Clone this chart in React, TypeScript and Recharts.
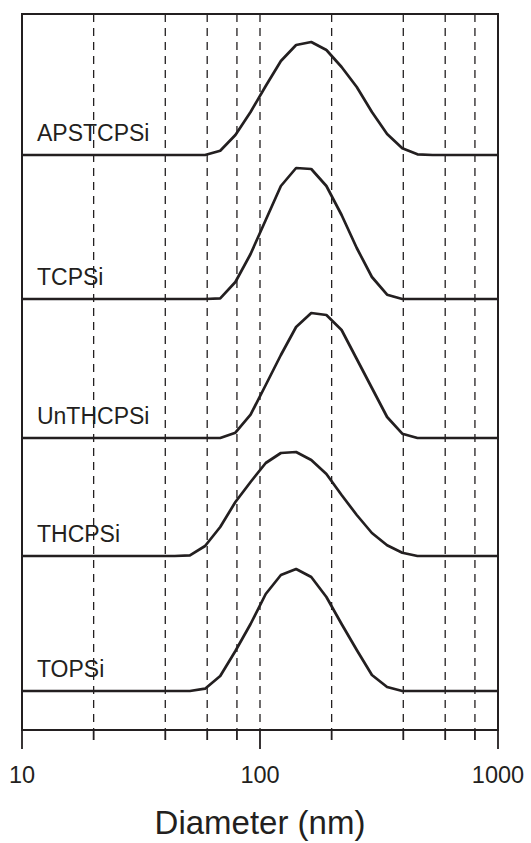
import { CartesianGrid, Line, LineChart, ReferenceArea, ReferenceDot, XAxis, YAxis } from "recharts"

// size bins (nm) – shared by every sample
const diameters = [10, 43.82, 50.75, 58.77, 68.06, 78.82, 91.28, 105.7, 122.4, 141.8, 164.2, 190.1, 220.2, 255.0, 295.3, 342.0, 396.1, 458.7, 531.2, 1000]

// intensity per bin (a.u.)
const apstcpsi = [0, 0, 0, 0, 4.3, 20, 43, 69, 94, 110, 113, 105, 88, 68, 43, 21, 6.7, 0.7, 0, 0]
const tcpsi = [0, 0, 0, 0, 0.7, 17, 45, 79, 113, 131, 130, 113, 84, 51, 22, 4.3, 0, 0, 0, 0]
const unthcpsi = [0, 0, 0, 0, 0, 5.3, 23.3, 53, 83, 111, 125, 123, 108, 79, 50, 21, 4.3, 0, 0, 0]
const thcpsi = [0, 0, 0.7, 10, 29, 54, 74, 93, 103, 104, 96, 82, 61, 41, 23, 10.7, 3.3, 0, 0, 0]
const topsi = [0, 0, 0, 2.3, 15, 40, 67, 97, 116, 122, 114, 94, 67, 41, 16, 4, 0, 0, 0, 0]

const sampleNames = ["APSTCPSi", "TCPSi", "UnTHCPSi", "THCPSi", "TOPSi"]
const sampleValues = [apstcpsi, tcpsi, unthcpsi, thcpsi, topsi]
// vertical stacking offset of each curve
const offsets = [575, 431, 292, 174, 39]

const xTicks = [10, 20, 40, 60, 80, 100, 200, 400, 600, 800, 1000]
const majorTicks = [10, 100, 1000]

const data = diameters.map((d, i) => {
  const row: Record<string, number> = { d }
  sampleNames.forEach((name, s) => {
    row[name] = offsets[s] + sampleValues[s][i]
  })
  return row
})

const FONT = "'Liberation Sans', Arial, Helvetica, sans-serif"
const INK = "#231f20"

const AxisTick = (props: any) => {
  const { x, y, payload } = props
  const major = majorTicks.includes(payload.value)
  return (
    <g>
      <line x1={x} x2={x} y1={y} y2={y + (major ? 19 : 10)} stroke={INK} strokeWidth={1.8} />
      {major && (
        <text x={x} y={y + 53} textAnchor="middle" fontSize={23.5} fontFamily={FONT} fill={INK}>
          {payload.value}
        </text>
      )}
    </g>
  )
}

const AxisTitle = (props: any) => {
  const vb = props.viewBox
  return (
    <text x={vb.x + vb.width / 2} y={vb.y + 104} textAnchor="middle" fontSize={33} fontFamily={FONT} fill={INK}>
      Diameter (nm)
    </text>
  )
}

const sampleLabel = (name: string) => (props: any) => {
  const vb = props.viewBox
  return (
    <text x={vb.x} y={vb.y} fontSize={23} fontFamily={FONT} fill={INK}>
      {name}
    </text>
  )
}

export default function App() {
  return (
    <div style={{ position: "absolute", left: 0, top: 0 }}>
      <LineChart width={531} height={843} data={data} margin={{ top: 14, right: 33, bottom: 53, left: 22 }}>
        <CartesianGrid horizontal={false} stroke={INK} strokeDasharray="8 6" strokeWidth={1.3} />
        <XAxis
          dataKey="d"
          type="number"
          scale="log"
          domain={[10, 1000]}
          ticks={xTicks}
          interval={0}
          height={60}
          tickSize={0}
          tickMargin={0}
          tickLine={false}
          tick={<AxisTick />}
          axisLine={{ stroke: INK, strokeWidth: 2 }}
          label={{ content: <AxisTitle /> }}
        />
        <YAxis hide type="number" domain={[0, 716]} />
        <ReferenceArea x1={10} x2={1000} y1={0} y2={716} fill="none" stroke={INK} strokeWidth={2} />
        {sampleNames.map((name) => (
          <Line
            key={name}
            type="linear"
            dataKey={name}
            stroke={INK}
            strokeWidth={2.7}
            strokeLinejoin="round"
            dot={false}
            isAnimationActive={false}
          />
        ))}
        {sampleNames.map((name, s) => (
          <ReferenceDot
            key={`lbl-${name}`}
            x={11.56}
            y={offsets[s] + 14}
            r={0}
            fill="none"
            stroke="none"
            label={{ content: sampleLabel(name) }}
          />
        ))}
      </LineChart>
    </div>
  )
}
